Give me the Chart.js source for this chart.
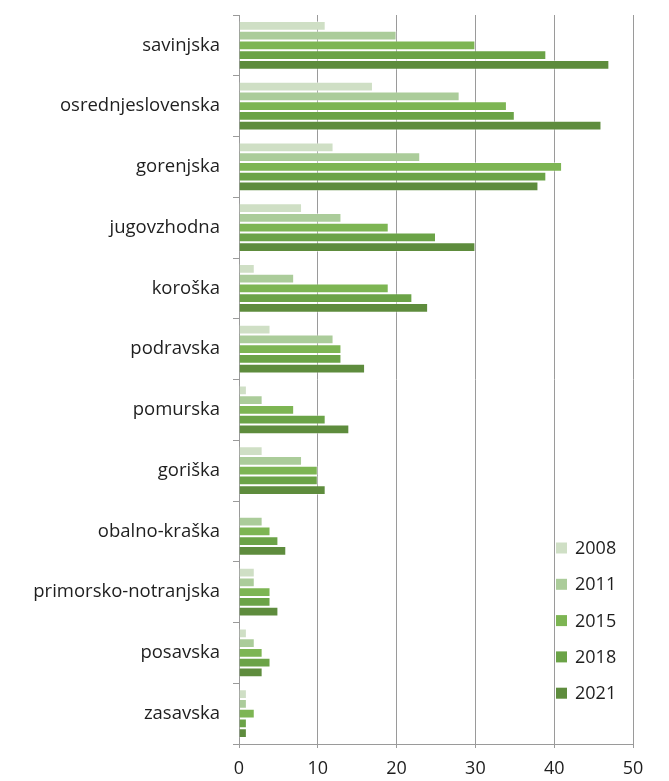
<!DOCTYPE html>
<html>
<head>
<meta charset="utf-8">
<script src="https://cdn.jsdelivr.net/npm/chart.js@4.4.1/dist/chart.umd.min.js"></script>
<style>
    html, body { margin: 0; padding: 0; background: #ffffff; }
    #wrap { position: relative; width: 669px; height: 781px; }
</style>
</head>
<body>
<div id="wrap"><canvas id="chart"></canvas></div>
<script>
// Regije - podatki po letih
const regions = ['savinjska', 'osrednjeslovenska', 'gorenjska', 'jugovzhodna', 'koroška', 'podravska',
    'pomurska', 'goriška', 'obalno-kraška', 'primorsko-notranjska', 'posavska', 'zasavska'];
const years = ['2008', '2011', '2015', '2018', '2021'];

const v2008 = [11, 17, 12, 8, 2, 4, 1, 3, 0, 2, 1, 1];
const v2011 = [20, 28, 23, 13, 7, 12, 3, 8, 3, 2, 2, 1];
const v2015 = [30, 34, 41, 19, 19, 13, 7, 10, 4, 4, 3, 2];
const v2018 = [39, 35, 39, 25, 22, 13, 11, 10, 5, 4, 4, 1];
const v2021 = [47, 46, 38, 30, 24, 16, 14, 11, 6, 5, 3, 1];

const xTicks = [0, 10, 20, 30, 40, 50];

const colors = ['#cfdfc5', '#abcc9a', '#7db553', '#6ba347', '#5e8c3d'];
const FONT = 'Open Sans';

// legenda znotraj risalne površine (desno spodaj)
const insideLegend = {
    id: 'insideLegend',
    afterDraw(chart) {
        const ctx = chart.ctx;
        ctx.save();
        ctx.font = '18px "' + FONT + '"';
        ctx.textBaseline = 'middle';
        ctx.textAlign = 'left';
        chart.data.datasets.forEach((ds, i) => {
            const y = 548 + i * 36.3;
            ctx.fillStyle = ds.backgroundColor;
            ctx.fillRect(556, y - 5.5, 11, 11);
            ctx.fillStyle = '#1e1e1e';
            ctx.fillText(ds.label, 575, y + 1);
        });
        ctx.restore();
    }
};

const series = [v2008, v2011, v2015, v2018, v2021];

new Chart(document.getElementById('chart').getContext('2d'), {
    type: 'bar',
    data: {
        labels: regions,
        datasets: series.map((data, i) => ({
            label: years[i],
            data: data,
            backgroundColor: colors[i],
            borderColor: 'rgba(255,255,255,0.4)',
            borderWidth: 1,
            categoryPercentage: 0.8,
            barPercentage: 1.0
        }))
    },
    options: {
        indexAxis: 'y',
        responsive: true,
        maintainAspectRatio: false,
        animation: false,
        layout: {
            padding: { top: 15, right: 36, bottom: 0, left: 0 }
        },
        plugins: {
            legend: { display: false },
            tooltip: { enabled: false }
        },
        scales: {
            x: {
                min: 0,
                max: 50,
                afterBuildTicks(axis) {
                    axis.ticks = xTicks.map(v => ({ value: v }));
                },
                afterFit(axis) {
                    axis.height = 37;
                },
                border: { display: true, color: '#9a9a9a', width: 1 },
                grid: {
                    color: '#9a9a9a',
                    lineWidth: 1,
                    tickLength: 4
                },
                ticks: {
                    color: '#1e1e1e',
                    padding: 10,
                    font: { family: FONT, size: 18 }
                }
            },
            y: {
                afterFit(axis) {
                    axis.width = 239;
                    axis.paddingTop = 0;
                    axis.paddingBottom = 0;
                },
                border: { display: true, color: '#9a9a9a', width: 1 },
                grid: {
                    offset: true,
                    drawOnChartArea: false,
                    drawTicks: true,
                    tickLength: 6,
                    color: '#9a9a9a'
                },
                ticks: {
                    color: '#1e1e1e',
                    padding: 13,
                    font: { family: FONT, size: 18.5 }
                }
            }
        }
    },
    plugins: [insideLegend]
});
</script>
</body>
</html>
